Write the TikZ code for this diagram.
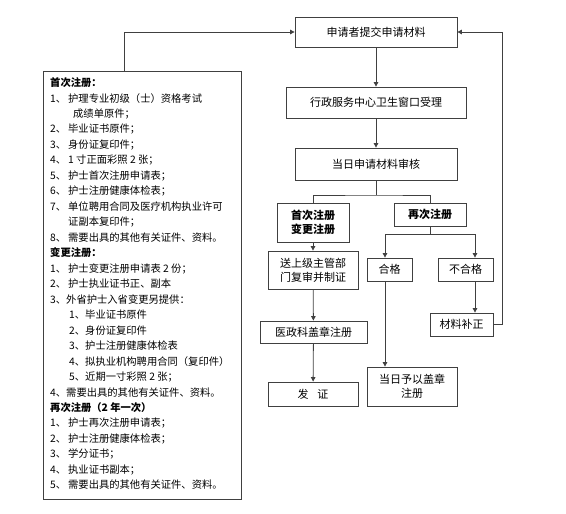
\documentclass[tikz,border=0pt]{standalone}
\usepackage{fontspec}
\setmainfont{Noto Sans CJK SC}
\usetikzlibrary{arrows.meta}
\newcommand\lline[3]{\node[ltext] (l#1) at (#2, {83+15.46*#1}) {#3};}
\begin{document}
\begin{tikzpicture}[x=1pt,y=-1pt,
  box/.style={draw=black!75, line width=0.8pt, fill=white, inner sep=0pt, align=center,
    font=\fontsize{11}{14}\selectfont},
  ltext/.style={anchor=west, inner sep=0pt, font=\fontsize{10.3}{12}\selectfont},
  conn/.style={draw=black!75, line width=0.8pt},
  arr/.style={conn, -{Triangle[length=4.5pt,width=4.5pt]}}]
\useasboundingbox (0,0) rectangle (566,514);
% left requirement box
\node[draw=black!75, line width=0.8pt, minimum width=198pt, minimum height=428pt, inner sep=0pt] (req) at (142,285) {};
\lline{0}{50}{\textbf{首次注册：}}
\lline{1}{50}{\makebox[18pt][l]{1、}护理专业初级（士）资格考试}
\lline{2}{73}{成绩单原件；}
\lline{3}{50}{\makebox[18pt][l]{2、}毕业证书原件；}
\lline{4}{50}{\makebox[18pt][l]{3、}身份证复印件；}
\lline{5}{50}{\makebox[18pt][l]{4、}1 寸正面彩照 2 张；}
\lline{6}{50}{\makebox[18pt][l]{5、}护士首次注册申请表；}
\lline{7}{50}{\makebox[18pt][l]{6、}护士注册健康体检表；}
\lline{8}{50}{\makebox[18pt][l]{7、}单位聘用合同及医疗机构执业许可}
\lline{9}{68}{证副本复印件；}
\lline{10}{50}{\makebox[18pt][l]{8、}需要出具的其他有关证件、资料。}
\lline{11}{50}{\textbf{变更注册：}}
\lline{12}{50}{\makebox[18pt][l]{1、}护士变更注册申请表 2 份；}
\lline{13}{50}{\makebox[18pt][l]{2、}护士执业证书正、副本}
\lline{14}{50}{3、外省护士入省变更另提供：}
\lline{15}{69}{1、毕业证书原件}
\lline{16}{69}{2、身份证复印件}
\lline{17}{69}{3、护士注册健康体检表}
\lline{18}{69}{4、拟执业机构聘用合同（复印件）}
\lline{19}{69}{5、近期一寸彩照 2 张；}
\lline{20}{50}{4、需要出具的其他有关证件、资料。}
\lline{21}{50}{\textbf{再次注册（2 年一次）}}
\lline{22}{50}{\makebox[18pt][l]{1、}护士再次注册申请表；}
\lline{23}{50}{\makebox[18pt][l]{2、}护士注册健康体检表；}
\lline{24}{50}{\makebox[18pt][l]{3、}学分证书；}
\lline{25}{50}{\makebox[18pt][l]{4、}执业证书副本；}
\lline{26}{50}{\makebox[18pt][l]{5、}需要出具的其他有关证件、资料。}
% flow boxes
\node[box, minimum width=162pt, minimum height=30pt] (top) at (376,32) {申请者提交申请材料};
\node[box, minimum width=180pt, minimum height=31pt] (acc) at (376,102.5) {行政服务中心卫生窗口受理};
\node[box, minimum width=162pt, minimum height=32pt] (rev) at (376,164) {当日申请材料审核};
\node[box, minimum width=72pt, minimum height=39pt] (first) at (313,222.5) {\textbf{首次注册}\\\textbf{变更注册}};
\node[box, minimum width=72pt, minimum height=23pt] (again) at (430,214.5) {\textbf{再次注册}};
\node[box, minimum width=90pt, minimum height=38pt] (send) at (313,270) {送上级主管部\\门复审并制证};
\node[box, minimum width=107pt, minimum height=22pt] (yz) at (313.5,332) {医政科盖章注册};
\node[box, minimum width=90pt, minimum height=24pt] (issue) at (313,394) {发\hspace{9pt}证};
\node[box, minimum width=45pt, minimum height=23pt] (ok) at (389.5,269.5) {合格};
\node[box, minimum width=55pt, minimum height=23pt] (nok) at (465.5,269.5) {不合格};
\node[box, minimum width=90pt, minimum height=39pt] (same) at (412,386.5) {当日予以盖章\\注册};
\node[box, minimum width=63pt, minimum height=23pt] (fix) at (461.5,324.5) {材料补正};
% connectors
\coordinate (lt) at (124,71);
\draw[arr] (lt) |- (top.west);
\draw[arr] (top) -- (acc);
\draw[arr] (acc) -- (rev);
\coordinate (sp) at (376,195);
\draw[conn] (rev.south) -- (sp);
\draw[conn] (first.north) |- (sp) -| (again.north);
\draw[arr] (first) -- (send);
\draw[arr] (send) -- (yz);
\draw[arr] (yz) -- (issue);
\coordinate (sp2) at (430,234);
\coordinate (okx) at (385,234);
\coordinate (nokx) at (475,234);
\draw[conn] (again.south) -- (sp2);
\draw[conn] (okx) -- (nokx);
\draw[arr] (okx) -- (okx |- ok.north);
\draw[arr] (nokx) -- (nokx |- nok.north);
\draw[arr] (okx |- ok.south) -- (okx |- same.north);
\draw[arr] (nokx |- nok.south) -- (nokx |- fix.north);
\coordinate (rt) at (502,324.5);
\draw[arr] (fix.east) -- (rt) |- (top.east);
\end{tikzpicture}
\end{document}
